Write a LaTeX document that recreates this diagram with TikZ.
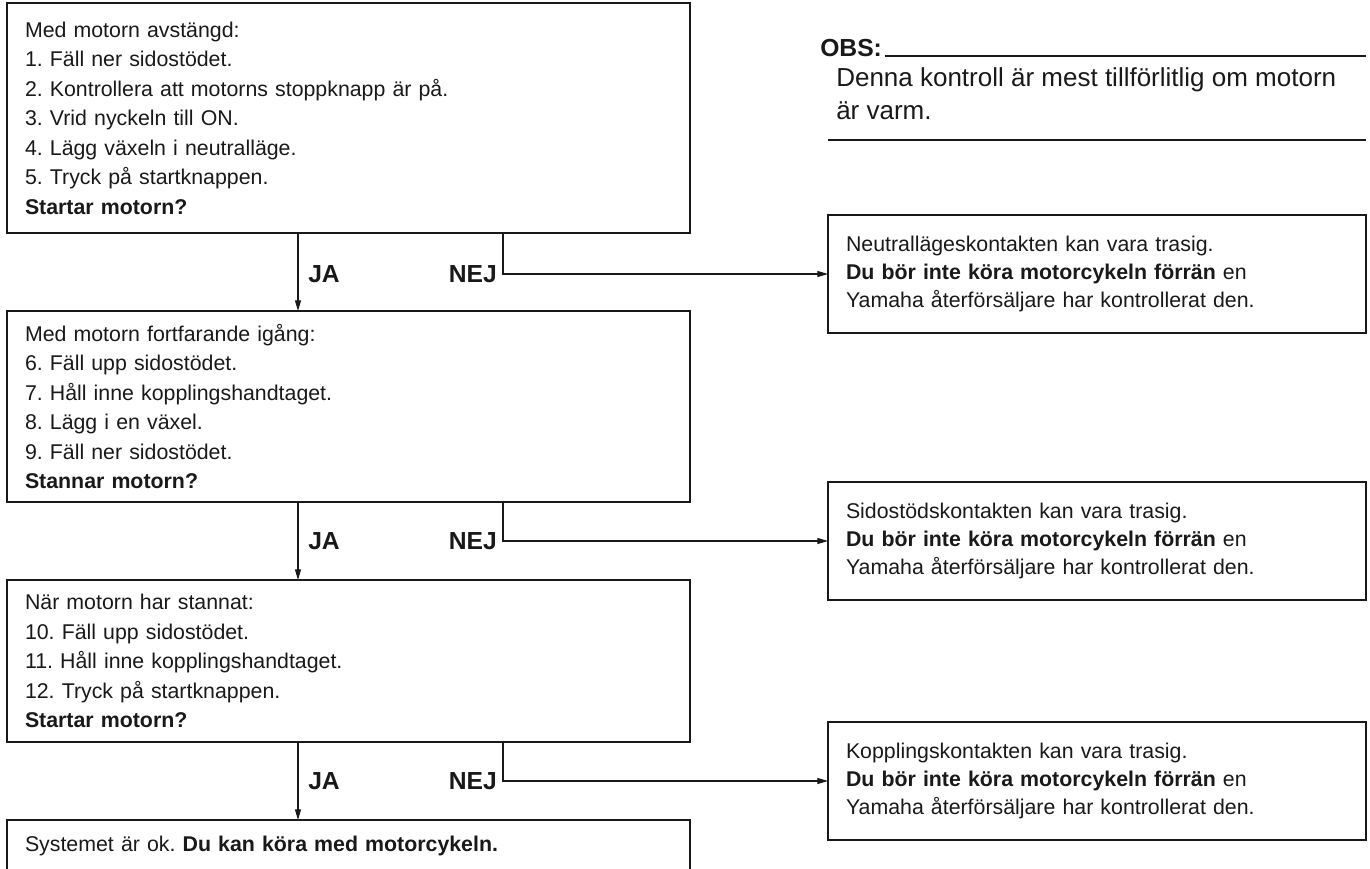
\documentclass[tikz,border=0pt]{standalone}
\usepackage{fontspec}
\setmainfont{Liberation Sans}
\usetikzlibrary{arrows.meta, positioning, calc}
\frenchspacing

\begin{document}
\begin{tikzpicture}[x=0.75pt, y=-0.75pt,
    stepbox/.style={draw=black!90, line width=1.7pt, anchor=north west, outer sep=0pt,
        inner xsep=13.5pt, inner ysep=0pt, text width=485.25pt, align=left,
        text=black!90, font=\fontsize{16}{22.1}\selectfont},
    faultbox/.style={draw=black!90, line width=1.7pt, anchor=west, outer sep=0pt,
        inner xsep=13.5pt, inner ysep=0pt, text width=376.5pt, minimum height=88pt,
        align=left, text=black!90, font=\fontsize{16}{21}\selectfont},
    answer/.style={text=black!90, font=\fontsize{18.5}{20}\bfseries, inner sep=0pt},
    arr/.style={draw=black!90, line width=0.8pt, -{Triangle[length=8pt, width=4.5pt]}}
]
\useasboundingbox (0,0) rectangle (1370,868);

% left column: the checking steps
\node[stepbox, minimum height=172.5pt] (box1) at (7,3) {Med motorn avstängd:\\
    1. Fäll ner sidostödet.\\
    2. Kontrollera att motorns stoppknapp är på.\\
    3. Vrid nyckeln till ON.\\
    4. Lägg växeln i neutralläge.\\
    5. Tryck på startknappen.\\
    \textbf{Startar motorn?}};
\node[stepbox, minimum height=143.25pt] (box2) at (7,311) {Med motorn fortfarande igång:\\
    6. Fäll upp sidostödet.\\
    7. Håll inne kopplingshandtaget.\\
    8. Lägg i en växel.\\
    9. Fäll ner sidostödet.\\
    \textbf{Stannar motorn?}};
\node[stepbox, minimum height=121.5pt] (box3) at (7,580) {När motorn har stannat:\\
    10. Fäll upp sidostödet.\\
    11. Håll inne kopplingshandtaget.\\
    12. Tryck på startknappen.\\
    \textbf{Startar motorn?}};
\node[stepbox, minimum height=39pt] (box4) at (7,820) {Systemet är ok. \textbf{Du kan köra med motorcykeln.}};

% right column: what is wrong
\node[faultbox] (faultA) at (828,274) {Neutrallägeskontakten kan vara trasig.\\
    \textbf{Du bör inte köra motorcykeln förrän} en\\
    Yamaha återförsäljare har kontrollerat den.};
\node[faultbox] (faultB) at (828,541) {Sidostödskontakten kan vara trasig.\\
    \textbf{Du bör inte köra motorcykeln förrän} en\\
    Yamaha återförsäljare har kontrollerat den.};
\node[faultbox] (faultC) at (828,781) {Kopplingskontakten kan vara trasig.\\
    \textbf{Du bör inte köra motorcykeln förrän} en\\
    Yamaha återförsäljare har kontrollerat den.};

% note
\node[anchor=base west, inner sep=0pt, text=black!90, font=\fontsize{18.5}{20}\bfseries] (obs) at (820,56) {OBS:};
\node[anchor=north west, inner sep=0pt, align=left, text=black!90,
    font=\fontsize{19.5}{25}\selectfont] (note) at (836,67) {Denna kontroll är mest tillförlitlig om motorn\\
    är varm.};
\coordinate (redge) at (1366,0);
\coordinate (nleft) at (828,140);
\draw[black!90, line width=0.8pt] ([xshift=2pt]obs.base east) -- (obs.base east -| redge);
\draw[black!90, line width=0.8pt] (nleft) -- (nleft -| redge);

% JA / NEJ connectors
\coordinate (ja) at (298,0);
\coordinate (nej) at (503,0);
\foreach \a/\b/\f/\y in {box1/box2/faultA/274, box2/box3/faultB/541, box3/box4/faultC/781}{
    \draw[arr] (\a.south -| ja) -- (\b.north -| ja);
    \draw[arr] (\a.south -| nej) |- (\f.west);
    \node[answer, anchor=west] at (308,\y) {JA};
    \node[answer, anchor=east] at (497,\y) {NEJ};
}
\end{tikzpicture}
\end{document}
